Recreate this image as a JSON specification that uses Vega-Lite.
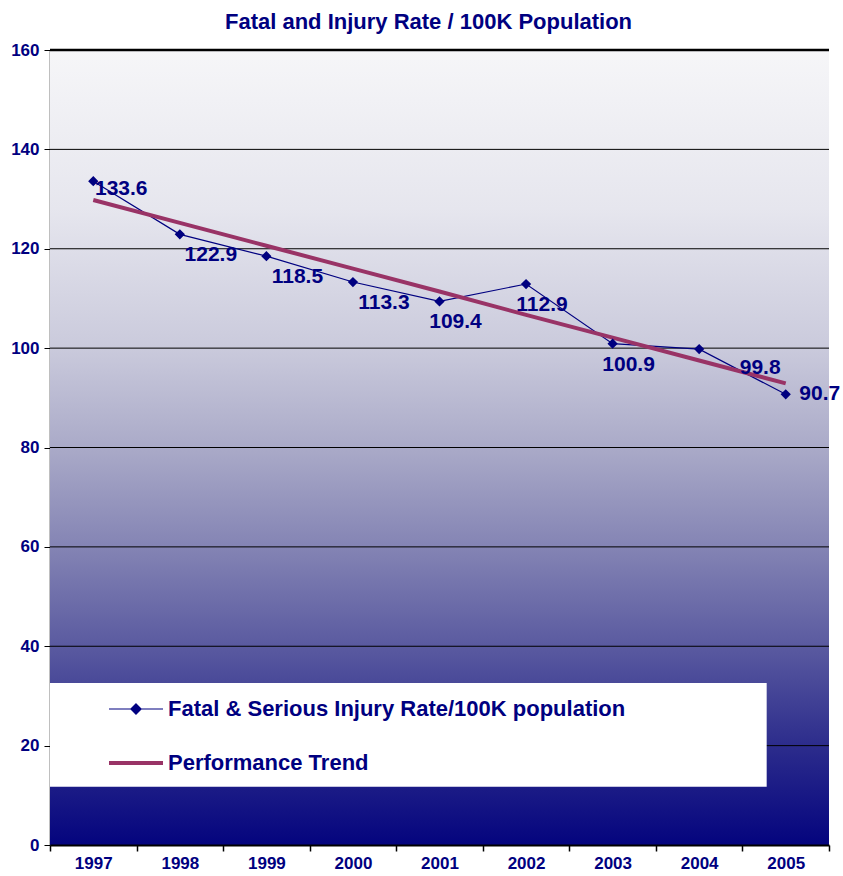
{
  "$schema": "https://vega.github.io/schema/vega-lite/v6.json",
  "width": 779,
  "height": 795,
  "autosize": {"type": "none"},
  "padding": {"left": 50, "top": 50, "right": 14, "bottom": 31},
  "background": "white",
  "title": {
    "text": "Fatal and Injury Rate / 100K Population",
    "font": "Liberation Sans",
    "fontSize": 22,
    "fontWeight": "bold",
    "color": "#000080",
    "anchor": "middle",
    "offset": 7,
    "dx": -11
  },
  "view": {"stroke": null},
  "datasets": {
    "rates": [
      {"year": "1997", "series": "Fatal & Serious Injury Rate/100K population", "value": 133.6},
      {"year": "1998", "series": "Fatal & Serious Injury Rate/100K population", "value": 122.9},
      {"year": "1999", "series": "Fatal & Serious Injury Rate/100K population", "value": 118.5},
      {"year": "2000", "series": "Fatal & Serious Injury Rate/100K population", "value": 113.3},
      {"year": "2001", "series": "Fatal & Serious Injury Rate/100K population", "value": 109.4},
      {"year": "2002", "series": "Fatal & Serious Injury Rate/100K population", "value": 112.9},
      {"year": "2003", "series": "Fatal & Serious Injury Rate/100K population", "value": 100.9},
      {"year": "2004", "series": "Fatal & Serious Injury Rate/100K population", "value": 99.8},
      {"year": "2005", "series": "Fatal & Serious Injury Rate/100K population", "value": 90.7},
      {"year": "1997", "series": "Performance Trend", "value": 129.8},
      {"year": "1998", "series": "Performance Trend", "value": 125.2},
      {"year": "1999", "series": "Performance Trend", "value": 120.6},
      {"year": "2000", "series": "Performance Trend", "value": 116.0},
      {"year": "2001", "series": "Performance Trend", "value": 111.4},
      {"year": "2002", "series": "Performance Trend", "value": 106.7},
      {"year": "2003", "series": "Performance Trend", "value": 102.1},
      {"year": "2004", "series": "Performance Trend", "value": 97.5},
      {"year": "2005", "series": "Performance Trend", "value": 92.9}
    ]
  },
  "data": {"name": "rates"},
  "layer": [
    {
      "data": {"values": [{}]},
      "mark": {
        "type": "rect",
        "color": {
          "gradient": "linear",
          "x1": 0, "y1": 0, "x2": 0, "y2": 1,
          "stops": [
            {"offset": 0, "color": "#f6f6f8"},
            {"offset": 0.2, "color": "#e6e6ee"},
            {"offset": 0.375, "color": "#cacadc"},
            {"offset": 0.5, "color": "#aaaac8"},
            {"offset": 0.625, "color": "#8484b4"},
            {"offset": 0.75, "color": "#5a5aa0"},
            {"offset": 0.875, "color": "#2c2c8c"},
            {"offset": 1, "color": "#04047e"}
          ]
        }
      },
      "encoding": {
        "y": {
          "datum": 160,
          "type": "quantitative",
          "scale": {"domain": [0, 160], "nice": false, "zero": true},
          "axis": {
            "title": null,
            "values": [0, 20, 40, 60, 80, 100, 120, 140, 160],
            "grid": false,
            "domainColor": "black",
            "domainWidth": 1.5,
            "tickColor": "black",
            "tickSize": 6,
            "labelFont": "Liberation Sans",
            "labelFontSize": 17,
            "labelFontWeight": "bold",
            "labelColor": "#000080",
            "labelPadding": 5
          }
        },
        "y2": {"datum": 0}
      }
    },
    {
      "data": {"values": [{"grid": 20}, {"grid": 40}, {"grid": 60}, {"grid": 80}, {"grid": 100}, {"grid": 120}, {"grid": 140}]},
      "mark": {"type": "rule", "color": "black", "strokeWidth": 1},
      "encoding": {"y": {"field": "grid", "type": "quantitative"}}
    },
    {
      "data": {"values": [{}]},
      "mark": {"type": "rule", "color": "black", "strokeWidth": 2.5},
      "encoding": {"y": {"datum": 160, "type": "quantitative"}}
    },
    {
      "data": {"values": [{}]},
      "mark": {"type": "rect", "color": "white"},
      "encoding": {
        "x": {
          "datum": "1997",
          "type": "ordinal",
          "bandPosition": 0,
          "scale": {"type": "band", "paddingInner": 0, "paddingOuter": 0, "domain": ["1997","1998","1999","2000","2001","2002","2003","2004","2005"]},
          "axis": {
            "title": null,
            "tickBand": "extent",
            "domainColor": "black",
            "domainWidth": 2,
            "tickColor": "black",
            "tickWidth": 1.5,
            "tickSize": 6,
            "labelAngle": 0,
            "labelFont": "Liberation Sans",
            "labelFontSize": 17,
            "labelFontWeight": "bold",
            "labelColor": "#000080",
            "labelPadding": 4,
            "grid": false
          }
        },
        "x2": {"datum": "2005", "bandPosition": 0.28},
        "y": {"datum": 32.6, "type": "quantitative"},
        "y2": {"datum": 11.7}
      }
    },
    {
      "mark": {"type": "line"},
      "encoding": {
        "x": {"field": "year", "type": "ordinal"},
        "y": {"field": "value", "type": "quantitative"},
        "color": {
          "field": "series",
          "type": "nominal",
          "scale": {
            "domain": ["Fatal & Serious Injury Rate/100K population", "Performance Trend"],
            "range": ["#000080", "#993366"]
          },
          "legend": {
            "orient": "none",
            "legendX": 57,
            "legendY": 631,
            "title": null,
            "padding": 0,
            "rowPadding": 14,
            "symbolSize": 2916,
            "labelFont": "Liberation Sans",
            "labelFontSize": 22,
            "labelFontWeight": "bold",
            "labelColor": "#000080",
            "labelOffset": 3,
            "labelLimit": 700
          }
        },
        "strokeWidth": {
          "field": "series",
          "type": "nominal",
          "scale": {
            "domain": ["Fatal & Serious Injury Rate/100K population", "Performance Trend"],
            "range": [1.2, 4]
          }
        },
        "order": {"field": "series", "type": "nominal", "sort": "descending"}
      }
    },
    {
      "transform": [{"filter": "datum.series !== 'Performance Trend'"}],
      "mark": {"type": "point", "filled": true, "size": 2916, "opacity": 1, "strokeWidth": 0},
      "encoding": {
        "x": {"field": "year", "type": "ordinal"},
        "y": {"field": "value", "type": "quantitative"},
        "color": {"field": "series", "type": "nominal"},
        "shape": {
          "field": "series",
          "type": "nominal",
          "scale": {
            "domain": ["Fatal & Serious Injury Rate/100K population", "Performance Trend"],
            "range": ["M-1,0H1M0,-0.19L0.19,0L0,0.19L-0.19,0Z", "M-1,0H1"]
          }
        }
      }
    },
    {
      "transform": [{"filter": "datum.series !== 'Performance Trend' && (datum.year === '1998' || datum.year === '1999' || datum.year === '2000')"}],
      "mark": {"type": "text", "dx": 31, "dy": 21, "font": "Liberation Sans", "fontSize": 21, "fontWeight": "bold", "color": "#000080"},
      "encoding": {"x": {"field": "year", "type": "ordinal"}, "y": {"field": "value", "type": "quantitative"}, "text": {"field": "value", "type": "quantitative", "format": ".1f"}}
    },
    {
      "transform": [{"filter": "datum.series !== 'Performance Trend' && (datum.year === '2001' || datum.year === '2002' || datum.year === '2003')"}],
      "mark": {"type": "text", "dx": 16, "dy": 21, "font": "Liberation Sans", "fontSize": 21, "fontWeight": "bold", "color": "#000080"},
      "encoding": {"x": {"field": "year", "type": "ordinal"}, "y": {"field": "value", "type": "quantitative"}, "text": {"field": "value", "type": "quantitative", "format": ".1f"}}
    },
    {
      "transform": [{"filter": "datum.series !== 'Performance Trend' && datum.year === '1997'"}],
      "mark": {"type": "text", "dx": 28, "dy": 8, "font": "Liberation Sans", "fontSize": 21, "fontWeight": "bold", "color": "#000080"},
      "encoding": {"x": {"field": "year", "type": "ordinal"}, "y": {"field": "value", "type": "quantitative"}, "text": {"field": "value", "type": "quantitative", "format": ".1f"}}
    },
    {
      "transform": [{"filter": "datum.series !== 'Performance Trend' && datum.year === '2004'"}],
      "mark": {"type": "text", "dx": 61, "dy": 19, "font": "Liberation Sans", "fontSize": 21, "fontWeight": "bold", "color": "#000080"},
      "encoding": {"x": {"field": "year", "type": "ordinal"}, "y": {"field": "value", "type": "quantitative"}, "text": {"field": "value", "type": "quantitative", "format": ".1f"}}
    },
    {
      "transform": [{"filter": "datum.series !== 'Performance Trend' && datum.year === '2005'"}],
      "mark": {"type": "text", "dx": 34, "dy": 0, "font": "Liberation Sans", "fontSize": 21, "fontWeight": "bold", "color": "#000080"},
      "encoding": {"x": {"field": "year", "type": "ordinal"}, "y": {"field": "value", "type": "quantitative"}, "text": {"field": "value", "type": "quantitative", "format": ".1f"}}
    }
  ]
}
